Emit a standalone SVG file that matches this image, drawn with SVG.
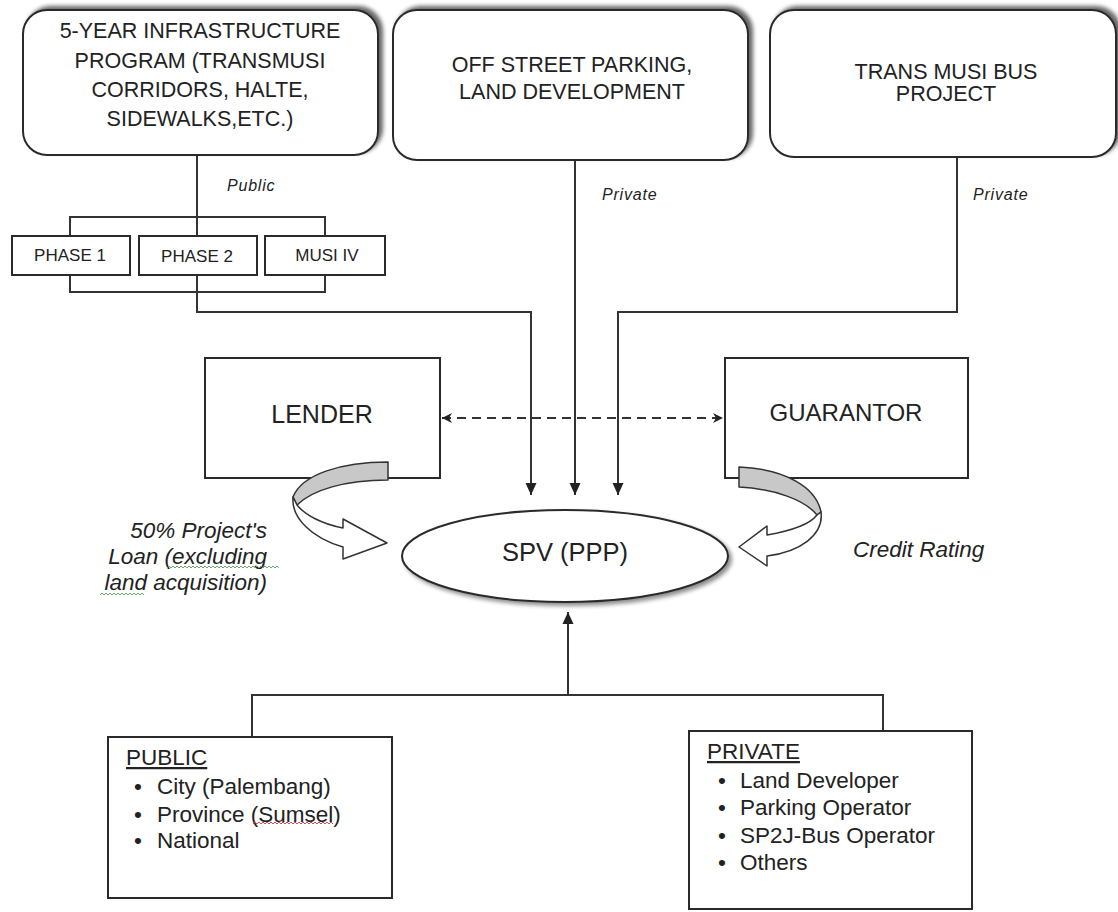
<svg xmlns="http://www.w3.org/2000/svg" width="1118" height="912" viewBox="0 0 1118 912">
<style>
text{font-family:"Liberation Sans",Arial,sans-serif;fill:#222}
.box{fill:#fff;stroke:#2a2a2a;stroke-width:2}
.t21{font-size:21.5px;text-anchor:middle}
.t24{font-size:24px;text-anchor:middle}
.ph{font-size:17px;text-anchor:middle}
.lst{font-size:22.5px}
.it{font-style:italic;font-size:22.5px}
.sm{font-style:italic;font-size:16px;letter-spacing:0.8px}
.ln{fill:none;stroke:#333;stroke-width:2}
.band{fill:#c8c8c8;stroke:#333;stroke-width:1.5;stroke-linejoin:round}
.wband{fill:#fff;stroke:#333;stroke-width:1.5;stroke-linejoin:round}
.sq{fill:none;stroke-width:1}
</style>
<defs>
<filter id="shTop" x="-10%" y="-10%" width="120%" height="120%">
<feGaussianBlur in="SourceAlpha" stdDeviation="2"/>
<feOffset dx="4" dy="-3" result="b"/>
<feComponentTransfer><feFuncA type="linear" slope="0.6"/></feComponentTransfer>
<feMerge><feMergeNode/><feMergeNode in="SourceGraphic"/></feMerge>
</filter>
<filter id="shEl" x="-10%" y="-20%" width="120%" height="140%">
<feGaussianBlur in="SourceAlpha" stdDeviation="2"/>
<feOffset dx="3" dy="3" result="b"/>
<feComponentTransfer><feFuncA type="linear" slope="0.45"/></feComponentTransfer>
<feMerge><feMergeNode/><feMergeNode in="SourceGraphic"/></feMerge>
</filter>
<marker id="arr" viewBox="0 0 12 12" refX="12" refY="6" markerWidth="12" markerHeight="12" markerUnits="userSpaceOnUse" orient="auto">
<path d="M0,0.5 L12,6 L0,11.5 z" fill="#222"/>
</marker>
<marker id="darr" viewBox="0 0 10 10" refX="10" refY="5" markerWidth="10" markerHeight="10" markerUnits="userSpaceOnUse" orient="auto-start-reverse">
<path d="M0,0 L10,5 L0,10 L3,5 z" fill="#222"/>
</marker>
</defs>

<g id="connectors">
<path class="ln" d="M197,155 V236"/>
<path class="ln" d="M70,236 V217 H325 V236"/>
<path class="ln" d="M70,275 V292 H325 V275"/>
<path class="ln" d="M197,275 V312 H531 V495" marker-end="url(#arr)"/>
<path class="ln" d="M575,160 V495" marker-end="url(#arr)"/>
<path class="ln" d="M957,157 V312 H618 V495" marker-end="url(#arr)"/>
<path class="ln" d="M442,418 H723" stroke-dasharray="9,6" marker-start="url(#darr)" marker-end="url(#darr)"/>
<path class="ln" d="M252,737 V695 H883 V731"/>
<path class="ln" d="M568,695 V612" marker-end="url(#arr)"/>
<text class="sm" x="227" y="191">Public</text>
<text class="sm" x="602" y="200">Private</text>
<text class="sm" x="973" y="200">Private</text>
</g>

<g id="infra">
<rect class="box" x="23" y="10" width="355" height="145" rx="24" filter="url(#shTop)"/>
<text class="t21" x="200" y="38">5-YEAR INFRASTRUCTURE</text>
<text class="t21" x="200" y="68">PROGRAM (TRANSMUSI</text>
<text class="t21" x="200" y="97">CORRIDORS, HALTE,</text>
<text class="t21" x="200" y="126">SIDEWALKS,ETC.)</text>
</g>

<g id="parking">
<rect class="box" x="393" y="10" width="355" height="150" rx="24" filter="url(#shTop)"/>
<text class="t21" x="572" y="72">OFF STREET  PARKING,</text>
<text class="t21" x="572" y="99">LAND DEVELOPMENT</text>
</g>

<g id="bus">
<rect class="box" x="770" y="10" width="346" height="147" rx="24" filter="url(#shTop)"/>
<text class="t21" x="946" y="79">TRANS MUSI BUS</text>
<text class="t21" x="946" y="101">PROJECT</text>
</g>

<g id="phase1">
<rect class="box" x="12" y="236" width="118" height="39" stroke-width="1.5"/>
<text class="ph" x="70" y="261">PHASE 1</text>
</g>
<g id="phase2">
<rect class="box" x="139" y="236" width="118" height="39" stroke-width="1.5"/>
<text class="ph" x="197" y="262">PHASE 2</text>
</g>
<g id="musi4">
<rect class="box" x="265" y="236" width="120" height="39" stroke-width="1.5"/>
<text class="ph" x="327" y="261">MUSI IV</text>
</g>

<g id="lender">
<rect class="box" x="205" y="358" width="235" height="120"/>
<text class="t24" x="322" y="423" style="font-size:25px">LENDER</text>
</g>

<g id="guarantor">
<rect class="box" x="725" y="358" width="243" height="120"/>
<text class="t24" x="846" y="421">GUARANTOR</text>
</g>

<g id="spv">
<ellipse cx="565" cy="556" rx="163" ry="46" fill="#fff" stroke="#2a2a2a" stroke-width="2" filter="url(#shEl)"/>
<text class="t24" x="565" y="561" style="font-size:25.5px">SPV (PPP)</text>
</g>

<g id="loan-arrow">
<path class="band" d="M388,462 C342,462 302,474 293,497 L297,505 C312,490 345,480 388,480 Z"/>
<path class="wband" d="M293,497 C291,518 312,538 343,547 L343,559 L387,543 L343,519 L343,528 C322,524 305,515 297,505 Z"/>
<text class="it" x="267" y="538" text-anchor="end">50% Project's</text>
<text class="it" x="267" y="564" text-anchor="end">Loan (excluding</text>
<text class="it" x="267" y="590" text-anchor="end">land acquisition)</text>
<path class="sq" stroke="#6aa86a" d="M167,568 l2,-2 l2,2 l2,-2 l2,2 l2,-2 l2,2 l2,-2 l2,2 l2,-2 l2,2 l2,-2 l2,2 l2,-2 l2,2 l2,-2 l2,2 l2,-2 l2,2 l2,-2 l2,2 l2,-2 l2,2 l2,-2 l2,2 l2,-2 l2,2 l2,-2 l2,2 l2,-2 l2,2 l2,-2 l2,2 l2,-2 l2,2 l2,-2 l2,2 l2,-2 l2,2 l2,-2 l2,2 l2,-2 l2,2 l2,-2 l2,2 l2,-2 l2,2 l2,-2 l2,2 l2,-2 l2,2 l2,-2 l2,2 l2,-2 l2,2 l2,-2 l2,2"/>
<path class="sq" stroke="#6aa86a" d="M100,595 l2,-2 l2,2 l2,-2 l2,2 l2,-2 l2,2 l2,-2 l2,2 l2,-2 l2,2 l2,-2 l2,2 l2,-2 l2,2 l2,-2 l2,2 l2,-2 l2,2 l2,-2 l2,2 l2,-2 l2,2"/>
</g>

<g id="credit-arrow">
<path class="band" d="M739,467 C785,469 816,487 821,512 L817,515 C805,500 775,489 739,487 Z"/>
<path class="wband" d="M821,512 C824,535 800,552 767,556 L767,566 L739,547 L767,526 L767,535 C790,531 810,524 817,515 Z"/>
<text class="it" x="853" y="557">Credit Rating</text>
</g>

<g id="public">
<rect class="box" x="108" y="737" width="284" height="161"/>
<text class="lst" x="126" y="765" text-decoration="underline">PUBLIC</text>
<text class="lst" x="134" y="794">•</text>
<text class="lst" x="157" y="794">City (Palembang)</text>
<text class="lst" x="134" y="822">•</text>
<text class="lst" x="157" y="822">Province (Sumsel)</text>
<text class="lst" x="134" y="848">•</text>
<text class="lst" x="157" y="848">National</text>
<path class="sq" stroke="#d05050" d="M253,824 l2,-2 l2,2 l2,-2 l2,2 l2,-2 l2,2 l2,-2 l2,2 l2,-2 l2,2 l2,-2 l2,2 l2,-2 l2,2 l2,-2 l2,2 l2,-2 l2,2 l2,-2 l2,2 l2,-2 l2,2 l2,-2 l2,2 l2,-2 l2,2 l2,-2 l2,2 l2,-2 l2,2 l2,-2 l2,2 l2,-2 l2,2 l2,-2 l2,2 l2,-2 l2,2 l2,-2 l2,2"/>
</g>

<g id="private">
<rect class="box" x="689" y="731" width="283" height="178"/>
<text class="lst" x="707" y="759" text-decoration="underline">PRIVATE</text>
<text class="lst" x="718" y="788">•</text>
<text class="lst" x="740" y="788">Land Developer</text>
<text class="lst" x="718" y="815">•</text>
<text class="lst" x="740" y="815">Parking Operator</text>
<text class="lst" x="718" y="843">•</text>
<text class="lst" x="740" y="843">SP2J-Bus Operator</text>
<text class="lst" x="718" y="870">•</text>
<text class="lst" x="740" y="870">Others</text>
</g>
</svg>
